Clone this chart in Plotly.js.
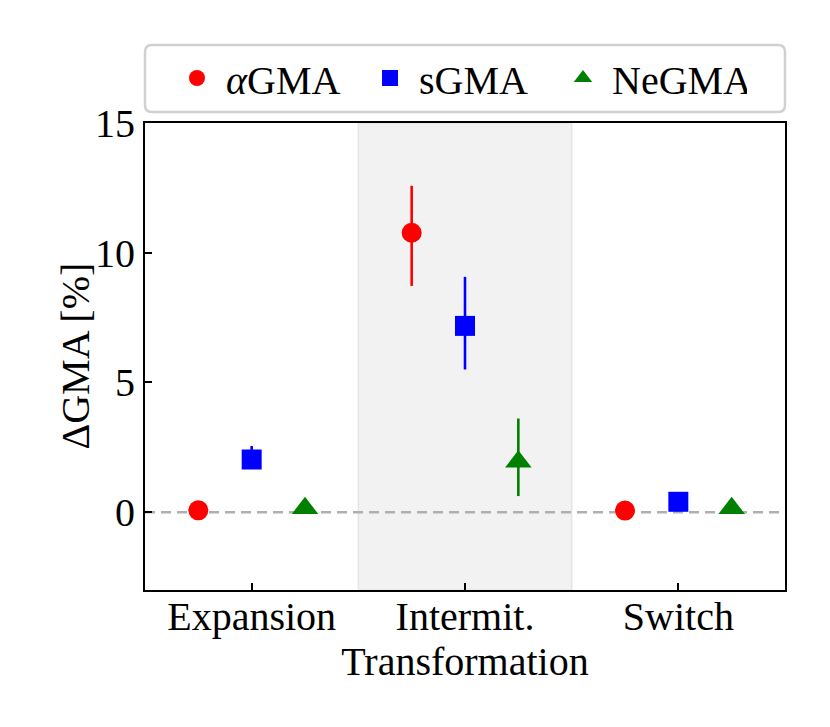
<!DOCTYPE html>
<html>
<head>
<meta charset="utf-8">
<script src="https://cdn.plot.ly/plotly-3.0.1.min.js"></script>
<style>html,body{margin:0;padding:0;background:#fff;}</style>
</head>
<body>
<div id="chart" style="width:830px;height:727px;"></div>
<script>
const categories = ['Expansion', 'Intermit.', 'Switch'];
const seriesNames = ['<i>α</i>GMA', 'sGMA', 'NeGMA'];

const aGMA = [0.07, 10.77, 0.06];
const aErrPlus = [0.2, 1.81, 0.2];
const aErrMinus = [0.2, 2.05, 0.2];

const sGMA = [2.03, 7.18, 0.40];
const sErrPlus = [0.52, 1.89, 0.2];
const sErrMinus = [0.3, 1.68, 0.2];

const neGMA = [0.15, 1.94, 0.15];
const neErrPlus = [0.2, 1.67, 0.2];
const neErrMinus = [0.2, 1.32, 0.2];

const yTicks = [0, 5, 10, 15];

const FONT = '"Liberation Serif", "DejaVu Serif", serif';
const FS = 40;
const idx = categories.map((c, i) => i);

function mk(name, y, ep, em, offset, color, symbol, size) {
  return {
    type: 'scatter', mode: 'markers', name: name,
    x: idx.map(i => i + offset), y: y,
    marker: {color: color, symbol: symbol, size: size, line: {width: 0}},
    error_y: {type: 'data', symmetric: false, array: ep, arrayminus: em,
              color: color, thickness: 2.6, width: 0},
    cliponaxis: false
  };
}

const traces = [
  mk(seriesNames[0], aGMA, aErrPlus, aErrMinus, -0.25, '#ff0000', 'circle', 20),
  mk(seriesNames[1], sGMA, sErrPlus, sErrMinus, 0, '#0000ff', 'square', 20),
  mk(seriesNames[2], neGMA, neErrPlus, neErrMinus, 0.25, '#008000', 'triangle-up', 23)
];

// rounded legend box in paper coords
const W = 640, H = 467; // plot px
function px(x){ return x / W; }
function py(y){ return y / H; }
const bx0 = px(145-145), bx1 = px(785-145), by0 = (590-112)/H, by1 = (590-45)/H;
const rx = px(7), ry = py(7);
const boxPath = `M${bx0+rx},${by1} L${bx1-rx},${by1} Q${bx1},${by1} ${bx1},${by1-ry} L${bx1},${by0+ry} Q${bx1},${by0} ${bx1-rx},${by0} L${bx0+rx},${by0} Q${bx0},${by0} ${bx0},${by0+ry} L${bx0},${by1-ry} Q${bx0},${by1} ${bx0+rx},${by1} Z`;

const layout = {
  width: 830, height: 727,
  margin: {l: 145, r: 45, t: 123, b: 137, pad: 0},
  paper_bgcolor: '#ffffff', plot_bgcolor: '#ffffff',
  font: {family: FONT, size: FS, color: '#000'},
  showlegend: true,
  legend: {
    orientation: 'h', x: (168-145)/W, xanchor: 'left', y: (590-78)/H, yanchor: 'middle',
    bgcolor: 'rgba(0,0,0,0)', borderwidth: 0,
    font: {family: FONT, size: FS, color: '#000'},
    entrywidth: 130, itemwidth: 48, traceorder: 'normal'
  },
  xaxis: {
    range: [-0.5, 2.5], tickvals: idx, ticktext: categories,
    ticks: 'inside', ticklen: 7, tickwidth: 2, tickcolor: '#000',
    showline: true, linecolor: '#000', linewidth: 2, mirror: true,
    showgrid: false, zeroline: false, ticklabelstandoff: -10,
    title: {text: 'Transformation', font: {family: FONT, size: FS}, standoff: 0}
  },
  yaxis: {
    range: [-3, 15], tickvals: yTicks,
    ticks: 'inside', ticklen: 7, tickwidth: 2, tickcolor: '#000',
    showline: true, linecolor: '#000', linewidth: 2, mirror: true,
    showgrid: false, zeroline: false, ticklabelstandoff: 0,
    title: {text: '', font: {family: FONT, size: FS}}
  },
  annotations: [
    {text: 'ΔGMA [%]', xref: 'paper', yref: 'paper', x: -(145-75)/W, y: 0.5,
     xanchor: 'center', yanchor: 'middle', textangle: -90, showarrow: false,
     font: {family: FONT, size: FS, color: '#000'}}
  ],
  shapes: [
    {type: 'rect', xref: 'x', yref: 'paper', x0: 0.5, x1: 1.5, y0: 0, y1: 1,
     fillcolor: '#f2f2f2', line: {color: '#e4e4e4', width: 1.5}, layer: 'below'},
    {type: 'line', xref: 'paper', yref: 'y', x0: 0, x1: 1, y0: 0, y1: 0,
     line: {color: '#b0b0b0', width: 2.5, dash: '10px,6px'}, layer: 'below'},
    {type: 'path', xref: 'paper', yref: 'paper', path: boxPath,
     fillcolor: 'rgba(255,255,255,0.8)', line: {color: '#d0d0d0', width: 2.5}, layer: 'below'}
  ]
};

Plotly.newPlot('chart', traces, layout, {displayModeBar: false, staticPlot: true});
</script>
</body>
</html>
